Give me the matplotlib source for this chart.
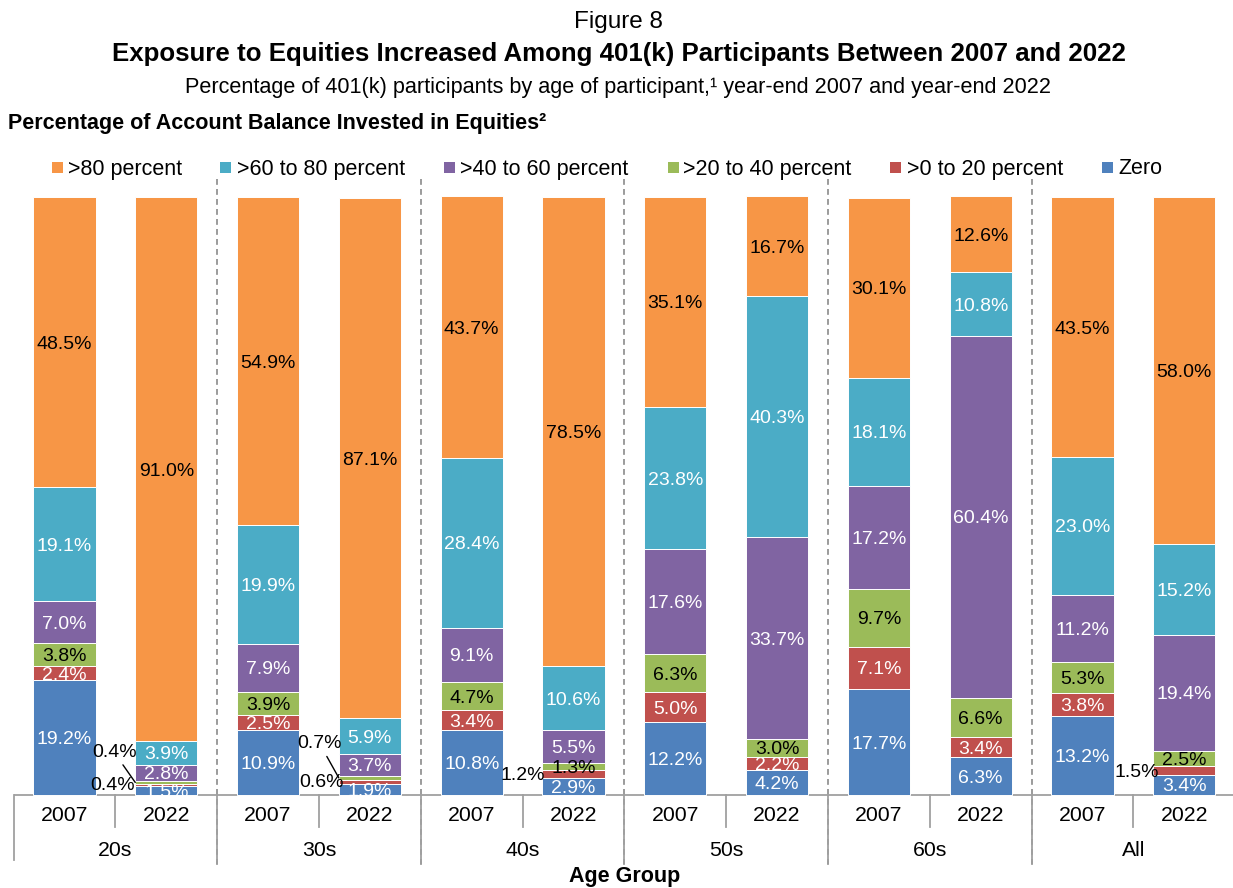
import matplotlib
matplotlib.use('Agg')
import matplotlib.pyplot as plt
from matplotlib.patches import Rectangle

plt.rcParams['font.family'] = ['Liberation Sans', 'DejaVu Sans']

# ---------------- data ----------------
groups = ['20s', '30s', '40s', '50s', '60s', 'All']
years = ['2007', '2022']
series = ['>80 percent', '>60 to 80 percent', '>40 to 60 percent',
          '>20 to 40 percent', '>0 to 20 percent', 'Zero']
colors = ['#F79646', '#4BACC6', '#8064A2', '#9BBB59', '#C0504D', '#4F81BD']

# one value per bar: 20s-2007, 20s-2022, 30s-2007, 30s-2022, ...
zero    = [19.2, 1.5, 10.9, 1.9, 10.8, 2.9, 12.2, 4.2, 17.7, 6.3, 13.2, 3.4]
gt0_20  = [2.4, 0.4, 2.5, 0.6, 3.4, 1.2, 5.0, 2.2, 7.1, 3.4, 3.8, 1.5]
gt20_40 = [3.8, 0.4, 3.9, 0.7, 4.7, 1.3, 6.3, 3.0, 9.7, 6.6, 5.3, 2.5]
gt40_60 = [7.0, 2.8, 7.9, 3.7, 9.1, 5.5, 17.6, 33.7, 17.2, 60.4, 11.2, 19.4]
gt60_80 = [19.1, 3.9, 19.9, 5.9, 28.4, 10.6, 23.8, 40.3, 18.1, 10.8, 23.0, 15.2]
gt80    = [48.5, 91.0, 54.9, 87.1, 43.7, 78.5, 35.1, 16.7, 30.1, 12.6, 43.5, 58.0]

# stacking order bottom -> top (indices into series/colors)
stack = [(5, zero), (4, gt0_20), (3, gt20_40), (2, gt40_60), (1, gt60_80), (0, gt80)]
label_colors = {0: 'black', 1: 'white', 2: 'white', 3: 'black', 4: 'white', 5: 'white'}

# labels placed outside the bar: (bar index, series index) -> (dx px, dy px, leader)
outside = {(1, 4): (-54, -1, False), (1, 3): (-21, 30, True),
           (3, 4): (-48, -1, False), (3, 3): (-19, 34, True),
           (5, 4): (-51, -1, False), (11, 4): (-48, -2, False)}

# ---------------- layout ----------------
W, H = 1233, 888
fig = plt.figure(figsize=(W / 100, H / 100), dpi=100)
ax = fig.add_axes([0, 0, 1, 1])
X0, XSTEP = 64.5, 101.8
Y0, YPER = 795, 5.98
ax.set_xlim(-X0 / XSTEP, (W - X0) / XSTEP)
ax.set_ylim((Y0 - H) / YPER, Y0 / YPER)
ax.axis('off')

DY = 2  # visual centring correction (px)


def py2y(py):
    return (Y0 - py - DY) / YPER


def fx(px):
    return px / W


def fy(py):
    return 1 - (py + DY) / H


LBL = 14
n = len(zero)
xs = list(range(n))
bw = 0.61
bottoms = [0.0] * n
for si, vals in stack:
    ax.bar(xs, vals, bottom=bottoms, width=bw, color=colors[si],
           edgecolor='white', linewidth=0.7, zorder=3)
    for i, v in enumerate(vals):
        yc = bottoms[i] + v / 2
        txt = f'{v:.1f}%'
        if (i, si) in outside:
            dx, dy, leader = outside[(i, si)]
            if leader:
                ax.annotate(txt, xy=(i - bw / 2, yc), xytext=(dx, dy),
                            textcoords='offset pixels', ha='center', va='center',
                            fontsize=LBL, color='black', zorder=5,
                            arrowprops=dict(arrowstyle='-', color='black', lw=1,
                                            shrinkA=1, shrinkB=0))
            else:
                ax.annotate(txt, xy=(i, yc), xytext=(dx, dy),
                            textcoords='offset pixels', ha='center', va='center',
                            fontsize=LBL, color='black', zorder=5)
        else:
            ax.annotate(txt, xy=(i, yc), xytext=(0, -DY), textcoords='offset pixels',
                        ha='center', va='center', fontsize=LBL,
                        color=label_colors[si], zorder=4)
    bottoms = [b + v for b, v in zip(bottoms, vals)]

# category axis
axis_col = '#A0A0A0'
xl = ax.get_xlim()
ax.plot([-0.5, xl[1]], [0, 0], color=axis_col, lw=1.3, zorder=2, solid_capstyle='butt')
for g in range(len(groups)):
    ax.plot([2 * g + 0.5] * 2, [0, (Y0 - 827) / YPER], color=axis_col, lw=1.3, zorder=2)
    ax.plot([2 * g - 0.5] * 2, [0, (Y0 - 860) / YPER], color=axis_col, lw=1.3, zorder=2)
    if g > 0:
        ax.plot([2 * g - 0.5] * 2, [(Y0 - 179) / YPER, (Y0 - 867) / YPER], color='#8A8A8A',
                lw=1.2, linestyle=(0, (3.5, 2.5)), zorder=1)
    for k, yr in enumerate(years):
        ax.text(2 * g + k, py2y(813), yr, ha='center', va='center', fontsize=15.3)
    ax.text(2 * g + 0.5, py2y(848), groups[g], ha='center', va='center', fontsize=15.3)

ax.text((len(groups) * 2 - 1) / 2, (Y0 - 876) / YPER, 'Age Group', ha='center', va='center',
        fontsize=15.5, fontweight='bold')

# titles
fig.text(fx(618), fy(20), 'Figure 8', ha='center', va='center', fontsize=17.5)
fig.text(fx(619), fy(52), 'Exposure to Equities Increased Among 401(k) Participants Between 2007 and 2022',
         ha='center', va='center', fontsize=18.6, fontweight='bold')
fig.text(fx(618), fy(86), 'Percentage of 401(k) participants by age of participant,\u00b9 year-end 2007 and year-end 2022',
         ha='center', va='center', fontsize=15.6)
fig.text(fx(8), fy(122), 'Percentage of Account Balance Invested in Equities\u00b2',
         ha='left', va='center', fontsize=15.5, fontweight='bold')

# legend
sq_left = [52, 220, 444, 668, 890, 1102]
txt_left = [68, 237, 460, 683, 907, 1118]
for k, name in enumerate(series):
    fig.patches.append(Rectangle((fx(sq_left[k]), 1 - 173 / H), 11 / W, 11 / H,
                                 transform=fig.transFigure, facecolor=colors[k],
                                 edgecolor='none'))
    fig.text(fx(txt_left[k]), fy(167), name, ha='left', va='center', fontsize=15.5)

fig.savefig('out.png', dpi=100)
